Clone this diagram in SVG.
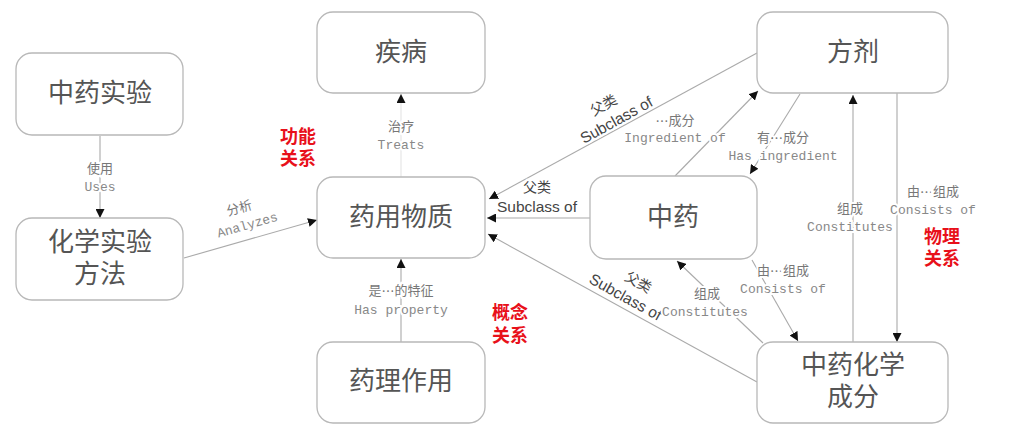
<svg xmlns="http://www.w3.org/2000/svg" width="1017" height="448" viewBox="0 0 1017 448">
<style>
.box{fill:#fff;stroke:#b8b8b8;stroke-width:1.3}
.nt{font-family:"Liberation Sans","Noto Sans CJK SC",sans-serif;font-size:26px;fill:#555;text-anchor:middle;dominant-baseline:central}
.ln{stroke:#aaa;stroke-width:1.1;fill:none;marker-end:url(#ah)}
.zh{font-family:"Liberation Sans","Noto Sans CJK SC",sans-serif;font-size:13px;fill:#777;text-anchor:middle;dominant-baseline:central;stroke:#fff;stroke-width:4;paint-order:stroke}
.el{font-family:"Noto Sans CJK SC",sans-serif}
.en{font-family:"Liberation Mono",monospace;font-size:13px;fill:#888;text-anchor:middle;dominant-baseline:central;stroke:#fff;stroke-width:4;paint-order:stroke}
.sc{font-family:"Liberation Sans",Arial,sans-serif;font-size:15.5px;fill:#444;text-anchor:middle;dominant-baseline:central;stroke:#fff;stroke-width:4;paint-order:stroke}
.zs{font-family:"Liberation Sans","Noto Sans CJK SC",sans-serif;font-size:14px;fill:#444;text-anchor:middle;dominant-baseline:central;stroke:#fff;stroke-width:4;paint-order:stroke}
.red{font-family:"Liberation Sans","Noto Sans CJK SC",sans-serif;font-size:18px;font-weight:bold;fill:#e8101a;text-anchor:middle;dominant-baseline:central}
</style>
<defs>
<marker id="ah" viewBox="0 0 10 10" refX="10" refY="5" markerWidth="9" markerHeight="9" markerUnits="userSpaceOnUse" orient="auto">
<path d="M0,0 L10,5 L0,10 z" fill="#111"/>
</marker>
</defs>
<rect width="1017" height="448" fill="#fff"/>
<g id="connectors">
<line class="ln" x1="100" y1="136" x2="100" y2="218"/>
<line class="ln" x1="184" y1="258" x2="317" y2="220"/>
<line class="ln" x1="401" y1="177" x2="401" y2="94" style="stroke:#e4e4e4"/>
<line class="ln" x1="401" y1="342" x2="401" y2="259"/>
<line class="ln" x1="590" y1="218" x2="487" y2="218"/>
<line class="ln" x1="757" y1="53" x2="489" y2="199"/>
<line class="ln" x1="675" y1="176" x2="758" y2="91"/>
<line class="ln" x1="800" y1="94" x2="750" y2="174"/>
<line class="ln" x1="853" y1="342" x2="853" y2="95"/>
<line class="ln" x1="897" y1="93" x2="897" y2="342"/>
<line class="ln" x1="752" y1="260" x2="798" y2="341"/>
<line class="ln" x1="763" y1="343" x2="677" y2="261"/>
<line class="ln" x1="757" y1="382" x2="488" y2="234"/>
<text class="zh" x="100" y="168">使用</text>
<text class="en" x="100" y="187">Uses</text>
<g transform="translate(245,217) rotate(-16)">
<text class="zh" x="-3" y="-10">分析</text>
<text class="en" x="0" y="9">Analyzes</text>
</g>
<text class="zh" x="401" y="126">治疗</text>
<text class="en" x="401" y="145">Treats</text>
<text class="zh" x="401" y="290">是<tspan class="el">…</tspan>的特征</text>
<text class="en" x="401" y="310">Has property</text>
<text class="zs" x="537" y="187">父类</text>
<text class="sc" x="537" y="206">Subclass of</text>
<g transform="translate(612,112) rotate(-29)">
<text class="zs" x="-4" y="-10">父类</text>
<text class="sc" x="0" y="9">Subclass of</text>
</g>
<text class="zh" x="675" y="120"><tspan class="el">…</tspan>成分</text>
<text class="en" x="675" y="138">Ingredient of</text>
<text class="zh" x="783" y="137">有<tspan class="el">…</tspan>成分</text>
<text class="en" x="783" y="156">Has ingredient</text>
<text class="zh" x="850" y="208">组成</text>
<text class="en" x="850" y="227">Constitutes</text>
<text class="zh" x="933" y="191">由<tspan class="el">…</tspan>组成</text>
<text class="en" x="933" y="210">Consists of</text>
<text class="zh" x="783" y="270">由<tspan class="el">…</tspan>组成</text>
<text class="en" x="783" y="289">Consists of</text>
<g transform="translate(630,289) rotate(29)">
<text class="zs" x="4" y="-10">父类</text>
<text class="sc" x="0" y="9">Subclass of</text>
</g>
<text class="zh" x="707" y="293">组成</text>
<text class="en" x="705" y="312">Constitutes</text>
</g>
<g id="n-zyshiyan"><rect class="box" x="16" y="53" width="167" height="82" rx="16"/><text class="nt" x="100" y="93">中药实验</text></g>
<g id="n-huaxue"><rect class="box" x="16" y="218" width="167" height="82" rx="16"/><text class="nt" x="100" y="242">化学实验</text><text class="nt" x="100" y="274">方法</text></g>
<g id="n-jibing"><rect class="box" x="317" y="12" width="168" height="81" rx="16"/><text class="nt" x="401" y="52">疾病</text></g>
<g id="n-yaoyong"><rect class="box" x="317" y="177" width="168" height="81" rx="16"/><text class="nt" x="401" y="217">药用物质</text></g>
<g id="n-yaoli"><rect class="box" x="317" y="342" width="168" height="81" rx="16"/><text class="nt" x="401" y="381">药理作用</text></g>
<g id="n-fangji"><rect class="box" x="757" y="12" width="191" height="81" rx="16"/><text class="nt" x="853" y="52">方剂</text></g>
<g id="n-zhongyao"><rect class="box" x="590" y="176" width="167" height="83" rx="16"/><text class="nt" x="673" y="217">中药</text></g>
<g id="n-chengfen"><rect class="box" x="757" y="342" width="191" height="81" rx="16"/><text class="nt" x="853" y="365">中药化学</text><text class="nt" x="853" y="397">成分</text></g>
<g id="tags">
<text class="red" x="298" y="137">功能</text>
<text class="red" x="298" y="159">关系</text>
<text class="red" x="510" y="313">概念</text>
<text class="red" x="510" y="336">关系</text>
<text class="red" x="942" y="237">物理</text>
<text class="red" x="942" y="259">关系</text>
</g>
</svg>
